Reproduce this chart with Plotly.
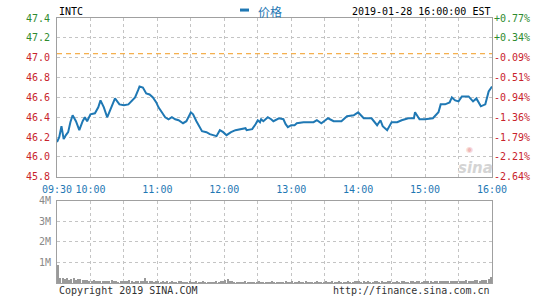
import plotly.graph_objects as go
import pandas as pd

# ---------------- data ----------------
symbol = "INTC"
stamp = "2019-01-28 16:00:00 EST"
trade_date = "2019-01-28"
prev_close = 47.04

# minutes after 09:30 and price
price_min = [0, 2, 4, 6, 8, 10, 12, 14, 17, 20, 23, 25, 27, 30, 34, 37, 39, 42, 45, 48,
             52, 56, 60, 64, 68, 70, 73, 74, 77, 80, 83, 86, 89, 91, 94, 97, 100, 103, 106, 109,
             113, 116, 120, 122, 125, 128, 130, 134, 137, 140, 143, 146, 149, 152, 156, 160, 166, 169, 170, 175,
             178, 180, 182, 183, 185, 186, 189, 192, 194, 199, 203, 205, 207, 210, 213, 215, 221, 230, 233, 237,
             243, 248, 255, 260, 266, 270, 272, 275, 282, 287, 290, 292, 296, 300, 305, 309, 315, 320, 321, 325,
             330, 337, 342, 344, 348, 352, 354, 357, 360, 363, 369, 373, 376, 380, 384, 387, 390]
price = [46.15, 46.20, 46.31, 46.18, 46.22, 46.25, 46.35, 46.42, 46.36, 46.27, 46.36, 46.40, 46.36, 46.43, 46.44, 46.50, 46.57, 46.50, 46.40, 46.48,
         46.59, 46.53, 46.52, 46.53, 46.57, 46.60, 46.68, 46.71, 46.70, 46.64, 46.63, 46.60, 46.55, 46.50, 46.45, 46.40, 46.38, 46.40, 46.38, 46.37,
         46.34, 46.36, 46.45, 46.43, 46.36, 46.30, 46.26, 46.25, 46.23, 46.22, 46.21, 46.27, 46.25, 46.22, 46.25, 46.27, 46.28, 46.29, 46.27, 46.28,
         46.33, 46.37, 46.35, 46.38, 46.36, 46.37, 46.40, 46.38, 46.36, 46.39, 46.38, 46.33, 46.30, 46.32, 46.32, 46.34, 46.35, 46.35, 46.37, 46.34,
         46.39, 46.36, 46.36, 46.41, 46.42, 46.45, 46.43, 46.39, 46.39, 46.32, 46.37, 46.31, 46.27, 46.35, 46.35, 46.37, 46.39, 46.39, 46.45, 46.38,
         46.38, 46.39, 46.45, 46.53, 46.53, 46.55, 46.60, 46.57, 46.56, 46.61, 46.61, 46.56, 46.59, 46.51, 46.53, 46.66, 46.71]

# volume (thousand shares) per 2-minute bucket from 09:30
volume_k = [900, 280, 250, 220, 260, 180, 200, 240, 170, 190, 210, 160, 150, 180, 140,
            130, 150, 120, 110, 140, 130, 100, 120, 110, 160, 120, 100, 90, 130, 110, 100, 120, 150, 110, 90, 100, 120, 110, 130, 240, 120, 110, 100, 90, 130,
            100, 90, 110, 80, 100, 90, 120, 80, 90, 100, 110, 80, 90, 70, 100, 90, 80, 110, 90, 80, 100, 90, 80, 70, 90, 80, 100, 90, 120, 110,
            180, 200, 120, 100, 80, 90, 70, 80, 90, 100, 80, 70, 90, 80, 70, 100, 90, 80, 70, 90, 80, 100, 80, 90, 70, 80, 90, 100, 80, 90,
            100, 90, 80, 110, 90, 80, 100, 90, 80, 70, 90, 100, 80, 90, 80, 110, 90, 80, 100, 90, 80, 120, 90, 80, 90, 100, 80, 90, 110, 100,
            100, 90, 110, 80, 100, 90, 80, 110, 130, 90, 100, 80, 90, 100, 120, 90, 80, 100, 90, 110, 100, 90, 80, 100, 110, 90, 100, 120, 90, 100,
            110, 100, 120, 90, 100, 130, 110, 100, 120, 140, 110, 100, 130, 120, 110, 140, 120, 110, 150, 130, 140, 120, 180, 150, 140, 160, 150, 170, 200, 320]

price_ticks = [45.8, 46.0, 46.2, 46.4, 46.6, 46.8, 47.0, 47.2, 47.4]
vol_ticks = [1e6, 2e6, 3e6, 4e6]
vol_tick_text = ["1M", "2M", "3M", "4M"]
time_ticks = ["09:30", "10:00", "10:30", "11:00", "11:30", "12:00", "12:30", "13:00",
              "13:30", "14:00", "14:30", "15:00", "15:30", "16:00"]
time_tick_text = ["09:30", "10:00", "", "11:00", "", "12:00", "", "13:00",
                  "", "14:00", "", "15:00", "", "16:00"]

# ---------------- build ----------------
open_ts = pd.Timestamp(f"{trade_date} 09:30")
px_x = open_ts + pd.to_timedelta(price_min, unit="min")
vol_x = pd.date_range(open_ts, periods=len(volume_k), freq="2min")
vol = [v * 1000 for v in volume_k]
tick_x = [pd.Timestamp(f"{trade_date} {t}") for t in time_ticks]

GREEN = "#2e8b2e"
RED = "#c8232c"
BLUE = "#1f78b4"
GRID = "#c4c4c4"
FRAME = "#a0a0a0"
MONO = "DejaVu Sans Mono"

left_text = [f"<span style='color:{GREEN if p > prev_close else RED}'>{p:.1f}</span>" for p in price_ticks]
right_text = []
for p in price_ticks:
    pct = (p / prev_close - 1) * 100
    right_text.append(f"<span style='color:{GREEN if pct > 0 else RED}'>{pct:+.2f}%</span>")

fig = go.Figure()
fig.add_trace(go.Scatter(x=px_x, y=price, mode="lines", line=dict(color=BLUE, width=2),
                         xaxis="x", yaxis="y", showlegend=False, hoverinfo="skip"))
fig.add_trace(go.Scatter(x=px_x, y=price, mode="lines", line=dict(color=BLUE, width=0),
                         opacity=0, xaxis="x", yaxis="y3", showlegend=False, hoverinfo="skip"))
fig.add_trace(go.Bar(x=vol_x, y=vol, marker=dict(color="#9a9a9a", line=dict(width=0)),
                     width=60000 * 1.2, offset=30000, xaxis="x2", yaxis="y2", showlegend=False,
                     hoverinfo="skip"))

xr = [tick_x[0], tick_x[-1]]
common_x = dict(type="date", range=xr, tickvals=tick_x, showgrid=True, gridcolor=GRID, griddash="dot",
                gridwidth=1, showline=True, linecolor=FRAME, linewidth=1, mirror=True, ticks="",
                zeroline=False)
fig.update_layout(
    width=545, height=300,
    margin=dict(l=57, r=53, t=18, b=15),
    paper_bgcolor="white", plot_bgcolor="white",
    font=dict(family=MONO, size=10, color="#333"),
    bargap=0,
    xaxis=dict(**common_x, domain=[0, 1], anchor="y", ticktext=time_tick_text,
               tickfont=dict(color=BLUE, size=10, family=MONO), ticklabelstandoff=3),
    xaxis2=dict(**common_x, domain=[0, 1], anchor="y2", showticklabels=False, matches="x"),
    yaxis=dict(domain=[0.4007, 1.0], range=[45.8, 47.4], tickvals=price_ticks, ticktext=left_text,
               showgrid=True, gridcolor=GRID, griddash="dot", showline=True, linecolor=FRAME,
               mirror=True, ticks="", zeroline=False, ticklabelstandoff=4,
               tickfont=dict(family=MONO, size=10)),
    yaxis3=dict(overlaying="y", side="right", anchor="x", range=[45.8, 47.4], tickvals=price_ticks,
                ticktext=right_text, showgrid=False, ticks="", zeroline=False, showline=False,
                ticklabelstandoff=1, tickfont=dict(family=MONO, size=10)),
    yaxis2=dict(domain=[0, 0.3109], range=[0, 4e6], tickvals=vol_ticks, ticktext=vol_tick_text,
                showgrid=True, gridcolor=GRID, griddash="dot", showline=True, linecolor=FRAME,
                mirror=True, ticks="", zeroline=False, ticklabelstandoff=3,
                tickfont=dict(family=MONO, size=10, color="#8a8a8a")),
)

fig.add_hline(y=prev_close, line=dict(color="#f39a1e", width=1, dash="5px,4px"), xref="x", yref="y")

# header texts
fig.add_annotation(text=symbol, x=0, y=1.026, xref="paper", yref="paper", xanchor="left",
                   yanchor="middle", showarrow=False, font=dict(family=MONO, size=10, color="#000"))
fig.add_annotation(text=stamp, x=1, y=1.026, xref="paper", yref="paper", xanchor="right",
                   yanchor="middle", showarrow=False, font=dict(family=MONO, size=10, color="#000"))
fig.add_shape(type="line", x0=0.4207, x1=0.4414, y0=1.030, y1=1.030, xref="paper", yref="paper",
              line=dict(color=BLUE, width=3))
fig.add_annotation(text="价格", x=0.4575, y=1.026, xref="paper", yref="paper", xanchor="left",
                   yanchor="middle", showarrow=False,
                   font=dict(family="Noto Sans CJK SC", size=12, color=BLUE))
# footer
fig.add_annotation(text="Copyright 2019 SINA.COM", x=0, y=-0.03, xref="paper", yref="paper",
                   xanchor="left", yanchor="middle", showarrow=False,
                   font=dict(family=MONO, size=10, color="#333"))
fig.add_annotation(text="http://finance.sina.com.cn", x=1, y=-0.03, xref="paper", yref="paper",
                   xanchor="right", yanchor="middle", showarrow=False,
                   font=dict(family=MONO, size=10, color="#333"))
# watermark
fig.add_annotation(text="<b><i>sina</i></b>", x=0.962, y=0.435, xref="paper", yref="paper",
                   xanchor="center", yanchor="middle", showarrow=False,
                   font=dict(family="DejaVu Sans", size=15, color="#d4d4d4"))
fig.add_annotation(text="◉", x=0.948, y=0.505, xref="paper", yref="paper",
                   xanchor="center", yanchor="middle", showarrow=False,
                   font=dict(family="DejaVu Sans", size=8, color="#f0b8b8"))

fig.write_html("out.html")
